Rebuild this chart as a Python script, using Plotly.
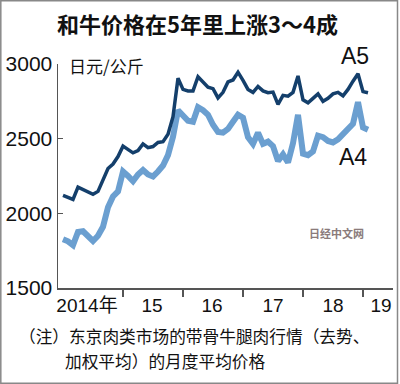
import plotly.graph_objects as go

# month index 0 = Jan 2014
months = list(range(62))

a5 = [2120, 2105, 2093, 2175, 2160, 2140, 2127, 2147, 2220, 2300,
      2330, 2380, 2450, 2430, 2405, 2420, 2465, 2440, 2447, 2475,
      2480, 2530, 2647, 2905, 2830, 2820, 2820, 2915, 2880, 2845,
      2835, 2773, 2810, 2880, 2893, 2945, 2890, 2830, 2810, 2850,
      2820, 2808, 2812, 2730, 2790, 2785, 2810, 2920, 2760, 2740,
      2770, 2800, 2750, 2770, 2800, 2810, 2787, 2830, 2885, 2935,
      2815, 2807]

a4 = [1827, 1813, 1787, 1875, 1880, 1840, 1815, 1850, 1910, 2040,
      2113, 2147, 2280, 2250, 2215, 2260, 2290, 2260, 2247, 2280,
      2320, 2390, 2513, 2690, 2650, 2620, 2613, 2710, 2690, 2660,
      2593, 2545, 2540, 2565, 2613, 2660, 2640, 2510, 2465, 2540,
      2465, 2480, 2450, 2350, 2395, 2340, 2470, 2660, 2400, 2390,
      2415, 2520, 2510, 2485, 2475, 2495, 2530, 2560, 2600, 2745,
      2575, 2560]

year_ticks = [12, 24, 36, 48, 60]
year_label_pos = [4.8, 17.8, 29.8, 42, 54, 63.6]
year_labels = ["2014年", "15", "16", "17", "18", "19"]
y_ticks = [1500, 2000, 2500, 3000]

title_text = "和牛价格在5年里上涨3～4成"
unit_text = "日元/公斤"
note1 = "（注）东京肉类市场的带骨牛腿肉行情（去势、"
note2 = "加权平均）的月度平均价格"

NUM = "Liberation Sans, Arial, Noto Sans CJK SC"
CJK = "Noto Sans CJK SC, Noto Sans CJK JP, sans-serif"

fig = go.Figure()
fig.add_trace(go.Scatter(x=months, y=a4, mode="lines",
                         line=dict(color="#6b9fd0", width=6), cliponaxis=False,
                         showlegend=False, hoverinfo="skip"))
fig.add_trace(go.Scatter(x=months, y=a5, mode="lines",
                         line=dict(color="#143f6b", width=3.5), cliponaxis=False,
                         showlegend=False, hoverinfo="skip"))
# invisible trace for label axis
fig.add_trace(go.Scatter(x=[0], y=[1500], xaxis="x2", mode="markers",
                         marker=dict(opacity=0), showlegend=False, hoverinfo="skip"))

L, R, T, B = 58, 7, 64, 96
W, H = 400, 384
pw, ph = W - L - R, H - T - B

def px(x):
    return (x - L) / pw

def py(y):
    return (H - B - y) / ph

fig.update_layout(
    width=W, height=H,
    margin=dict(l=L, r=R, t=T, b=B, autoexpand=False),
    paper_bgcolor="white", plot_bgcolor="white",
    hovermode=False,
    xaxis=dict(range=[-1, 66], tickvals=year_ticks, ticktext=[""] * 5,
               ticks="outside", ticklen=7, tickwidth=1.5, tickcolor="#555",
               showline=True, linecolor="#555", linewidth=1.5,
               showgrid=False, zeroline=False, automargin=False),
    xaxis2=dict(range=[-1, 66], overlaying="x", side="bottom",
                tickvals=year_label_pos, ticktext=year_labels, ticks="",
                showline=False, showgrid=False, zeroline=False, automargin=False,
                ticklabelstandoff=4,
                tickfont=dict(family=NUM, size=19, color="#111")),
    yaxis=dict(range=[1500, 3000], tickvals=y_ticks,
               ticks="inside", ticklen=5, tickwidth=1.5, tickcolor="#555",
               showline=True, linecolor="#555", linewidth=1.5,
               showgrid=False, zeroline=False, automargin=False,
               tickfont=dict(family=NUM, size=21, color="#111")),
)

ann = [
    dict(text="<b>" + title_text + "</b>", x=px(197), y=py(23),
         font=dict(family=CJK, size=22, color="#111")),
    dict(text=unit_text, x=px(67), y=py(65), xanchor="left",
         font=dict(family=CJK, size=17, color="#111")),
    dict(text="A5", x=px(355), y=py(56),
         font=dict(family=NUM, size=23, color="#111")),
    dict(text="A4", x=px(353), y=py(157),
         font=dict(family=NUM, size=23, color="#111")),
    dict(text="<b>日经中文网</b>", x=px(336), y=py(233),
         font=dict(family=CJK, size=11, color="#8a7b7b")),
    dict(text=note1, x=px(17), y=py(336), xanchor="left",
         font=dict(family=CJK, size=16.7, color="#111")),
    dict(text=note2, x=px(63), y=py(361), xanchor="left",
         font=dict(family=CJK, size=16.7, color="#111")),
]
for a in ann:
    a.setdefault("xanchor", "center")
    fig.add_annotation(xref="paper", yref="paper", showarrow=False,
                       yanchor="middle", **a)

fig.add_shape(type="rect", xref="paper", yref="paper",
              x0=px(0.8), x1=px(397.5), y0=py(383.2), y1=py(0.8),
              line=dict(color="#888", width=1.5))

fig.write_html("out.html",
               config={"displayModeBar": False, "staticPlot": True},
               post_script="document.body.style.margin='0';document.body.style.padding='0';")
